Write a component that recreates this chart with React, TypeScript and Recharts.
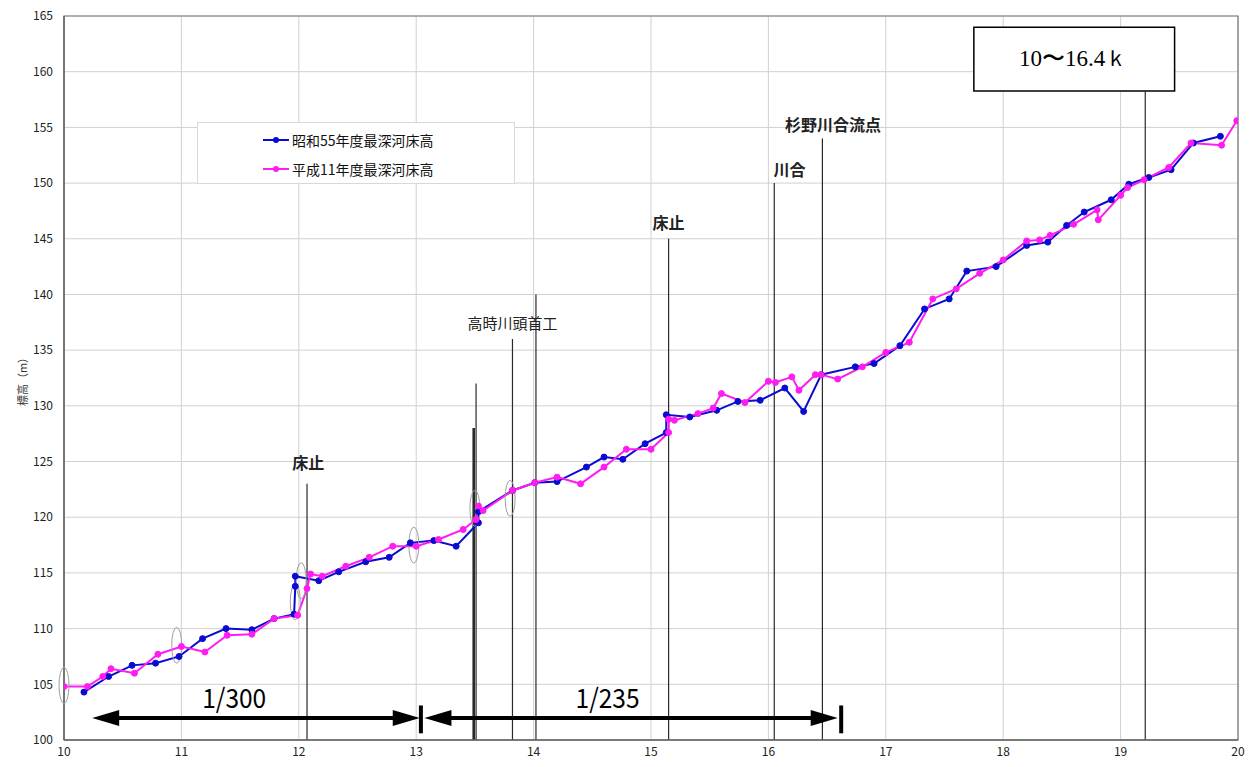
import React from 'react';
import {
  LineChart,
  Line,
  XAxis,
  YAxis,
  CartesianGrid,
  ReferenceLine,
  ReferenceDot,
  ReferenceArea,
  Legend,
} from 'recharts';

// 昭和55年度 最深河床高 (km, m)
const showaKm = [
  10.17, 10.38, 10.58, 10.78, 10.98, 11.18, 11.38, 11.6, 11.79, 11.96, 11.97, 11.97,
  12.17, 12.34, 12.57, 12.77, 12.95, 13.15, 13.34, 13.53, 13.53, 13.82, 14.01, 14.2,
  14.45, 14.6, 14.76, 14.95, 15.13, 15.13, 15.33, 15.56, 15.74, 15.93, 16.14, 16.3,
  16.45, 16.74, 16.9, 17.12, 17.33, 17.54, 17.69, 17.94, 18.2, 18.38, 18.54, 18.69,
  18.92, 19.07, 19.24, 19.43, 19.62, 19.85,
];
const showaElev = [
  104.3, 105.7, 106.7, 106.9, 107.5, 109.1, 110.0, 109.9, 110.9, 111.3, 113.8, 114.7,
  114.3, 115.1, 116.0, 116.4, 117.7, 117.9, 117.4, 119.5, 120.5, 122.4, 123.1, 123.2,
  124.5, 125.4, 125.2, 126.6, 127.6, 129.2, 129.0, 129.6, 130.4, 130.5, 131.6, 129.5,
  132.8, 133.5, 133.8, 135.4, 138.7, 139.6, 142.1, 142.5, 144.4, 144.7, 146.2, 147.4,
  148.5, 149.9, 150.5, 151.2, 153.6, 154.2,
];

// 平成11年度 最深河床高 (km, m)
const heiseiKm = [
  10.0, 10.2, 10.33, 10.4, 10.6, 10.8, 11.0, 11.2, 11.39, 11.6, 11.79, 11.99, 12.07,
  12.1, 12.2, 12.4, 12.6, 12.8, 13.0, 13.19, 13.4, 13.51, 13.53, 13.57, 13.82, 14.01,
  14.2, 14.4, 14.6, 14.79, 15.0, 15.15, 15.15, 15.2, 15.4, 15.53, 15.6, 15.8, 16.0,
  16.06, 16.2, 16.26, 16.4, 16.45, 16.59, 16.8, 17.0, 17.2, 17.4, 17.6, 17.8, 18.0,
  18.2, 18.31, 18.4, 18.6, 18.8, 18.81, 19.0, 19.06, 19.2, 19.41, 19.6, 19.86, 19.99,
];
const heiseiElev = [
  104.8, 104.8, 105.7, 106.4, 106.0, 107.7, 108.4, 107.9, 109.4, 109.5, 110.9, 111.2, 113.6,
  114.9, 114.7, 115.6, 116.4, 117.4, 117.4, 118.0, 118.9, 119.8, 121.0, 120.6, 122.4, 123.1,
  123.6, 123.0, 124.5, 126.1, 126.1, 127.6, 128.8, 128.7, 129.3, 129.8, 131.1, 130.3, 132.2,
  132.1, 132.6, 131.4, 132.8, 132.8, 132.4, 133.5, 134.8, 135.7, 139.6, 140.5, 141.9, 143.1,
  144.8, 144.9, 145.3, 146.3, 147.6, 146.7, 148.9, 149.6, 150.3, 151.4, 153.6, 153.4, 155.6,
];

const xTicks = [10, 11, 12, 13, 14, 15, 16, 17, 18, 19, 20];
const yTicks = [100, 105, 110, 115, 120, 125, 130, 135, 140, 145, 150, 155, 160, 165];

// 構造物位置の縦線
const structureKm = [12.07, 13.49, 13.51, 13.82, 14.02, 15.15, 16.05, 16.46, 19.21];
const structureTop = [123.0, 128.0, 132.0, 136.0, 140.0, 145.0, 150.0, 154.0, 158.3];
const structureWidth = [1.2, 2.6, 1.2, 1.2, 1.2, 1.2, 1.2, 1.2, 1.2];

// 注記
const noteText = ['床止', '高時川頭首工', '床止', '川合', '杉野川合流点'];
const noteKm = [12.08, 13.82, 15.15, 16.18, 16.55];
const noteElev = [124.3, 136.9, 145.9, 150.6, 154.7];
const noteBold = [true, false, true, true, true];

// 灰色の楕円
const ellipseKm = [10.0, 10.96, 11.97, 12.02, 12.98, 13.5, 13.8];
const ellipseElev = [104.9, 108.5, 112.4, 114.3, 117.5, 120.8, 121.7];

// 河床勾配
const slopeText = ['1/300', '1/235'];
const slopeFrom = [10.24, 13.07];
const slopeTo = [13.03, 16.59];
const slopeTextKm = [11.45, 14.63];
const slopeBarKm = [13.04, 16.62];

const showaData = showaKm.map((x, i) => ({ x, y: showaElev[i] }));
const heiseiData = heiseiKm.map((x, i) => ({ x, y: heiseiElev[i] }));

const BLUE = '#0a0ad2';
const PINK = '#ff1cf0';
const GOTHIC = '"Noto Sans CJK JP", "Noto Sans", sans-serif';

const ArrowShape = (props: any) => {
  const { x1, y1, x2 } = props;
  const h = 8;
  const L = 27;
  return (
    <g>
      <line x1={x1 + L - 2} y1={y1} x2={x2 - L + 2} y2={y1} stroke="#000" strokeWidth={4} />
      <polygon points={`${x1},${y1} ${x1 + L},${y1 - h} ${x1 + L},${y1 + h}`} fill="#000" />
      <polygon points={`${x2},${y1} ${x2 - L},${y1 - h} ${x2 - L},${y1 + h}`} fill="#000" />
    </g>
  );
};

const LegendBox = () => (
  <div
    style={{
      width: 318,
      height: 62,
      boxSizing: 'border-box',
      border: '1px solid #d8d8d8',
      background: '#fff',
      fontFamily: GOTHIC,
      fontSize: 14,
      color: '#111',
      paddingTop: 3,
    }}
  >
    {[
      { name: '昭和55年度最深河床高', color: BLUE },
      { name: '平成11年度最深河床高', color: PINK },
    ].map((s) => (
      <div key={s.name} style={{ display: 'flex', alignItems: 'center', height: 28.5, paddingLeft: 65 }}>
        <svg width={26} height={10} style={{ marginRight: 3 }}>
          <line x1={0} y1={5} x2={26} y2={5} stroke={s.color} strokeWidth={2} />
          <circle cx={13} cy={5} r={3} fill={s.color} />
        </svg>
        <span>{s.name}</span>
      </div>
    ))}
  </div>
);

export default function App() {
  return (
    <div style={{ width: 1251, height: 767, marginTop: -8 }}>
      <LineChart width={1251} height={767} margin={{ top: 16, right: 21, bottom: 7, left: 0 }}>
        <CartesianGrid stroke="#d0d0d0" strokeWidth={1} />
        <XAxis
          dataKey="x"
          type="number"
          domain={[10, 20]}
          ticks={xTicks}
          allowDataOverflow
          height={20}
          tickLine={false}
          tickMargin={1}
          axisLine={{ stroke: '#666', strokeWidth: 1.5 }}
          tick={{ fontSize: 12, fill: '#222', fontFamily: GOTHIC }}
        />
        <YAxis
          type="number"
          domain={[100, 165]}
          ticks={yTicks}
          allowDataOverflow
          width={56}
          tickLine={false}
          tickMargin={5}
          axisLine={{ stroke: '#666', strokeWidth: 1.5 }}
          tick={{ fontSize: 12, fill: '#222', fontFamily: GOTHIC }}
        />
        <ReferenceArea x1={10} x2={20} y1={100} y2={165} fill="none" stroke="#777" strokeWidth={1.2} />

        {structureKm.map((km, i) => (
          <ReferenceLine
            key={`st-${i}`}
            segment={[
              { x: km, y: 100 },
              { x: km, y: structureTop[i] },
            ]}
            stroke="#2a2a2a"
            strokeWidth={structureWidth[i]}
          />
        ))}

        <ReferenceArea
          x1={17.75}
          x2={19.46}
          y1={158.26}
          y2={164.0}
          fill="#fff"
          fillOpacity={1}
          stroke="#000"
          strokeWidth={1.5}
        />
        <ReferenceDot
          x={18.6}
          y={160.5}
          r={0}
          shape={(p: any) => (
            <text
              x={p.cx}
              y={p.cy}
              textAnchor="middle"
              fontSize={23}
              fontFamily='"Liberation Serif", "DejaVu Serif", serif'
              fill="#000"
            >
              10〜16.4ｋ
            </text>
          )}
        />

        {noteText.map((t, i) => (
          <ReferenceDot
            key={`note-${i}`}
            x={noteKm[i]}
            y={noteElev[i]}
            r={0}
            shape={(p: any) => (
              <text
                x={p.cx}
                y={p.cy}
                textAnchor="middle"
                fontSize={noteBold[i] ? 16 : 15}
                fontWeight={noteBold[i] ? 700 : 400}
                fontFamily={GOTHIC}
                fill="#222"
              >
                {t}
              </text>
            )}
          />
        ))}

        {ellipseKm.map((km, i) => (
          <ReferenceDot
            key={`el-${i}`}
            x={km}
            y={ellipseElev[i]}
            r={0}
            shape={(p: any) => (
              <ellipse cx={p.cx} cy={p.cy} rx={5} ry={18} fill="none" stroke="#a0a0a0" strokeWidth={1} />
            )}
          />
        ))}

        {slopeText.map((t, i) => (
          <ReferenceLine
            key={`arrow-${i}`}
            segment={[
              { x: slopeFrom[i], y: 101.97 },
              { x: slopeTo[i], y: 101.97 },
            ]}
            shape={ArrowShape}
          />
        ))}
        {slopeBarKm.map((km, i) => (
          <ReferenceLine
            key={`bar-${i}`}
            segment={[
              { x: km, y: 100.6 },
              { x: km, y: 103.1 },
            ]}
            stroke="#000"
            strokeWidth={4}
          />
        ))}
        {slopeText.map((t, i) => (
          <ReferenceDot
            key={`st-t-${i}`}
            x={slopeTextKm[i]}
            y={102.87}
            r={0}
            shape={(p: any) => (
              <text
                x={p.cx}
                y={p.cy}
                textAnchor="middle"
                fontSize={27}
                fontFamily={GOTHIC}
                textLength={64}
                lengthAdjust="spacingAndGlyphs"
                fill="#000"
              >
                {t}
              </text>
            )}
          />
        ))}

        <Line
          data={showaData}
          dataKey="y"
          name="昭和55年度最深河床高"
          type="linear"
          stroke={BLUE}
          strokeWidth={2}
          dot={{ r: 3, fill: BLUE, stroke: BLUE, strokeWidth: 1 }}
          activeDot={false}
          isAnimationActive={false}
        />
        <Line
          data={heiseiData}
          dataKey="y"
          name="平成11年度最深河床高"
          type="linear"
          stroke={PINK}
          strokeWidth={2}
          dot={{ r: 3, fill: PINK, stroke: PINK, strokeWidth: 1 }}
          activeDot={false}
          isAnimationActive={false}
        />

        <Legend
          content={LegendBox}
          layout="vertical"
          align="center"
          verticalAlign="middle"
          wrapperStyle={{ position: 'absolute', left: 189, top: 122, width: 318, height: 62 }}
        />

        <text
          x={14}
          y={379}
          transform="rotate(-90 14 379)"
          textAnchor="middle"
          dominantBaseline="central"
          fontSize={11}
          fontFamily={GOTHIC}
          fill="#333"
        >
          標高（m）
        </text>
      </LineChart>
    </div>
  );
}
